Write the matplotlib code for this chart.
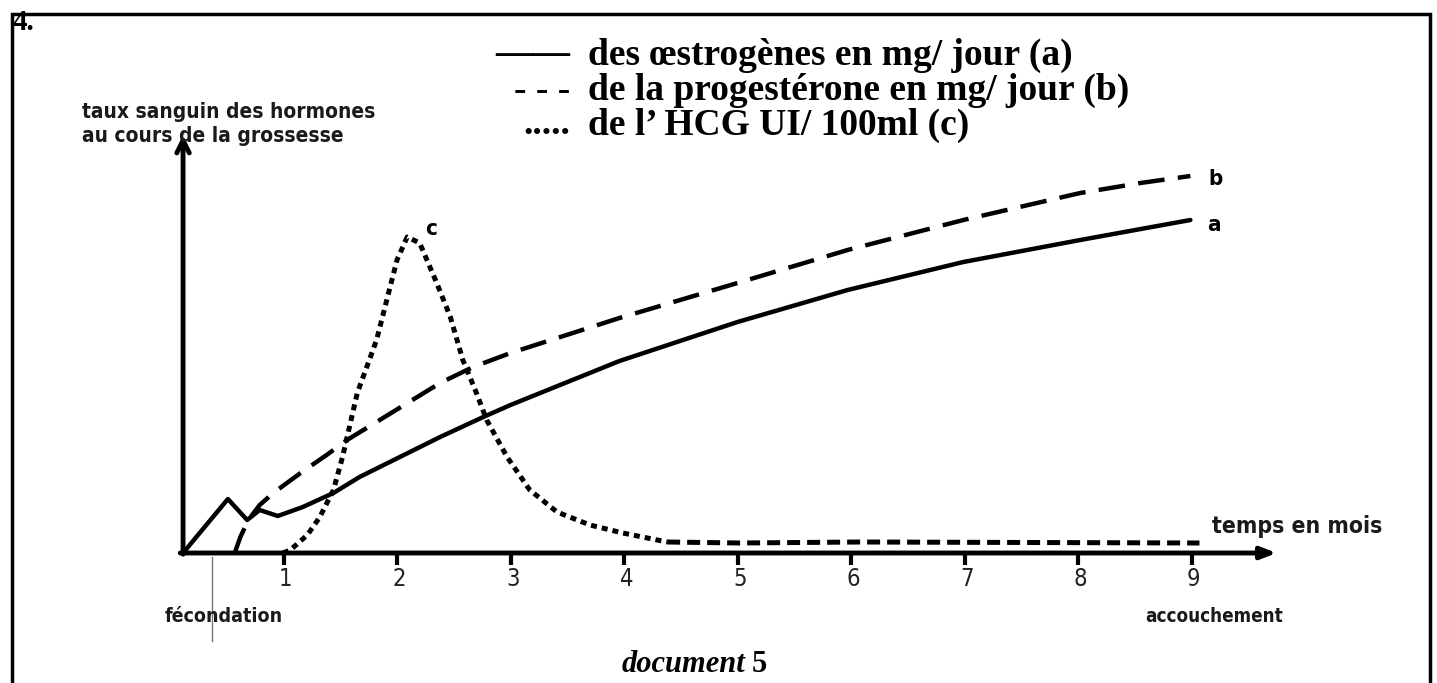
import matplotlib
matplotlib.use("Agg")
import matplotlib.pyplot as plt
from matplotlib.patches import Rectangle

# Time in months, hormone level in arbitrary units.
estro_months = [0.115, 0.51, 0.68, 0.79, 0.95, 1.17, 1.44, 1.67, 2.38, 2.76,
                3.0, 3.96, 5.0, 5.97, 6.99, 8.02, 8.99]
estro_level = [0, 13.5, 8.25, 10.75, 9.25, 11.5, 15, 19, 29, 34,
               37, 48, 57.75, 65.75, 72.75, 78.25, 83.25]

proges_months = [0.57, 0.62, 0.69, 0.79, 0.91, 1.15, 1.38, 1.56, 2.38, 2.67,
                 3.0, 3.96, 5.0, 5.97, 6.99, 8.02, 8.55, 8.99]
proges_level = [0, 4, 8.25, 12, 15, 20, 24.5, 28.25, 42.5, 46.5,
                50, 58.75, 67.5, 75.75, 83.25, 90, 92.5, 94.25]

hcg_months = [0.995, 1.06, 1.21, 1.32, 1.44, 1.52, 1.65, 1.82, 1.91, 2.0,
              2.09, 2.2, 2.35, 2.47, 2.58, 2.70, 2.79, 2.97, 3.17, 3.41,
              3.70, 3.99, 4.38, 5.02, 6.08, 9.07]
hcg_level = [0, 0.75, 4.5, 9, 15.75, 24, 40, 53.25, 63.25, 73.25,
             79, 77.5, 67.5, 59, 48.25, 40, 33.25, 24, 15.75, 10.25,
             7, 5, 2.75, 2.5, 2.75, 2.5]

month_ticks = [1, 2, 3, 4, 5, 6, 7, 8, 9]

legend_marks = ["\u2014\u2014", "- - -", "....."]
legend_labels = ["des \u0153strog\u00e8nes en mg/ jour (a)",
                 "de la progest\u00e9rone en mg/ jour (b)",
                 "de l\u2019 HCG UI/ 100ml (c)"]

W, H = 1437, 683
sans = ["DejaVu Sans"]
serif = ["Liberation Serif", "DejaVu Serif"]


def fx(px):
    return px / W


def fy(py):
    return 1 - py / H


fig = plt.figure(figsize=(W / 100, H / 100), dpi=100)
fig.patch.set_facecolor("white")

# Frame around the document
fig.add_artist(Rectangle((fx(12), fy(690)), fx(1430) - fx(12), fy(14) - fy(690),
                         transform=fig.transFigure, fill=False, lw=2.5, ec="black"))
fig.text(fx(13), fy(23), "4.", fontsize=21, fontweight="bold", family=serif,
         va="center", ha="left")

ax = fig.add_axes([fx(170), fy(553), fx(1305) - fx(170), fy(133) - fy(553)])
ax.set_xlim(0, 10)
ax.set_ylim(0, 105)
ax.axis("off")

# Axes drawn as arrows
ax.annotate("", xy=(0.115, 104.5), xytext=(0.115, -0.3),
            arrowprops=dict(arrowstyle="->,head_length=0.9,head_width=0.45", lw=3.5,
                            color="black", shrinkA=0, shrinkB=0))
ax.annotate("", xy=(9.75, 0), xytext=(0.09, 0),
            arrowprops=dict(arrowstyle="-|>,head_length=0.9,head_width=0.35", lw=3.5,
                            color="black", shrinkA=0, shrinkB=0))
ax.vlines(month_ticks, -3, 0.5, colors="black", lw=3, clip_on=False)
for m in month_ticks:
    ax.text(m + 0.02, -6.5, str(m), fontsize=17, family=sans, fontstretch="condensed",
            color="#222222", ha="center", va="center", clip_on=False)

# The three hormone curves
ax.plot(estro_months, estro_level, color="black", lw=3.2, solid_capstyle="round",
        solid_joinstyle="round", clip_on=False)
ax.plot(proges_months, proges_level, color="black", lw=3.2, dashes=(6, 3),
        clip_on=False)
ax.plot(hcg_months[:23], hcg_level[:23], color="black", lw=3.6, dashes=(1.2, 1.0),
        clip_on=False)
ax.plot(hcg_months[22:], hcg_level[22:], color="black", lw=3.6, dashes=(2.6, 1.4),
        clip_on=False)

# Curve names
lab = dict(fontsize=16, fontweight="bold", family=sans, fontstretch="condensed",
           ha="left", va="center")
ax.text(2.25, 81, "c", **lab)
ax.text(9.15, 93.5, "b", **lab)
ax.text(9.14, 82, "a", **lab)

# Fecondation arrow and faint mark
ax.annotate("", xy=(0.555, -0.5), xytext=(0.555, -12),
            arrowprops=dict(arrowstyle="-|>,head_length=0.8,head_width=0.35", lw=3.5,
                            color="black", shrinkA=0, shrinkB=0))
ax.plot([0.37, 0.37], [-1, -22], color="#777777", lw=1, clip_on=False)

# Axis texts
txt = dict(fontweight="bold", family=sans, fontstretch="condensed",
           color="#1a1a1a", va="center", ha="left")
fig.text(fx(82), fy(112), "taux sanguin des hormones", fontsize=15, **txt)
fig.text(fx(82), fy(136), "au cours de la grossesse", fontsize=15, **txt)
fig.text(fx(1212), fy(527), "temps en mois", fontsize=16.5, **txt)
fig.text(fx(1145), fy(616), "accouchement", fontsize=13.5, **txt)
fig.text(fx(165), fy(617), "f\u00e9condation", fontsize=14, **txt)

# Legend lines
for i in range(3):
    y = fy(55 + 35 * i)
    fig.text(fx(570), y, legend_marks[i], fontsize=27, fontweight="bold",
             family=serif, va="center", ha="right")
    fig.text(fx(588), y, legend_labels[i], fontsize=27, fontweight="bold",
             family=serif, va="center", ha="left")

fig.text(fx(745), fy(664), "document", fontsize=22, fontweight="bold",
         fontstyle="italic", family=serif, ha="right", va="center")
fig.text(fx(752), fy(664), "5", fontsize=22, fontweight="bold", family=serif,
         ha="left", va="center")

fig.savefig("out.png", dpi=100)
